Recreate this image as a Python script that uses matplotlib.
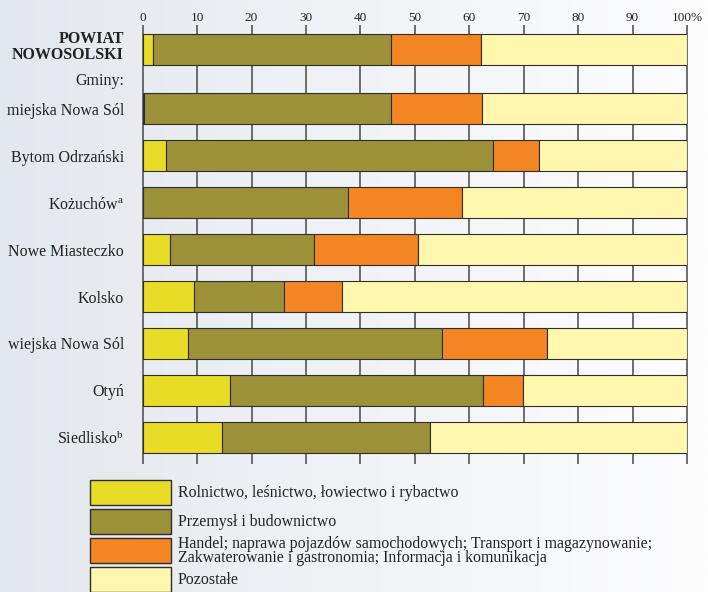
import numpy as np
import matplotlib
matplotlib.use('Agg')
import matplotlib.pyplot as plt
from matplotlib.patches import Rectangle

plt.rcParams['font.family'] = ['Liberation Serif', 'DejaVu Serif']
plt.rcParams['mathtext.fontset'] = 'custom'
plt.rcParams['mathtext.rm'] = 'Liberation Serif'
plt.rcParams['mathtext.it'] = 'Liberation Serif:italic'
plt.rcParams['mathtext.bf'] = 'Liberation Serif:bold'

# ---- data ----
units = ['POWIAT\nNOWOSOLSKI', 'miejska Nowa Sól', 'Bytom Odrzański',
         'Kożuchów$^{\\mathrm{a}}$', 'Nowe Miasteczko', 'Kolsko',
         'wiejska Nowa Sól', 'Otyń', 'Siedlisko$^{\\mathrm{b}}$']
rolnictwo = [1.9, 0.3, 4.2, 0.0, 5.0, 9.5, 8.4, 16.0, 14.5]
przemysl = [43.8, 45.3, 60.2, 37.8, 26.5, 16.4, 46.5, 46.6, 38.2]
handel = [16.5, 16.7, 8.5, 20.9, 19.0, 10.8, 19.3, 7.3, 0.0]
pozostale = [37.8, 37.7, 27.1, 41.3, 49.5, 63.3, 25.8, 30.1, 47.3]
series_names = ['Rolnictwo, leśnictwo, łowiectwo i rybactwo',
                'Przemysł i budownictwo',
                'Handel; naprawa pojazdów samochodowych; Transport i magazynowanie;\nZakwaterowanie i gastronomia; Informacja i komunikacja',
                'Pozostałe']
xticks = [0, 10, 20, 30, 40, 50, 60, 70, 80, 90, 100]
xticklabels = ['0', '10', '20', '30', '40', '50', '60', '70', '80', '90', '100%']
gminy_label = 'Gminy:'

colors = ['#e8dc27', '#9c9038', '#f38522', '#fff7ae']
edge = '#2e2e2e'

W, H = 708, 592
fig = plt.figure(figsize=(W / 100, H / 100), dpi=100)

# background gradient
bg = fig.add_axes([0, 0, 1, 1], zorder=-10)
grad = np.linspace(0, 1, 256)
left = np.array([227, 232, 238]) / 255
right = np.array([253, 253, 254]) / 255
img = (left[None, :] * (1 - grad[:, None]) + right[None, :] * grad[:, None])[None, :, :]
bg.imshow(img, aspect='auto', extent=[0, 1, 0, 1])
bg.set_axis_off()

# main axes
x0, x1 = 142.7, 687.0
yt, yb = 25.0, 464.0
ax = fig.add_axes([x0 / W, 1 - yb / H, (x1 - x0) / W, (yb - yt) / H])
ax.patch.set_alpha(0)

pos = np.array([-1.25, 0, 1, 2, 3, 4, 5, 6, 7])
bh = 0.668
data = [rolnictwo, przemysl, handel, pozostale]
leftacc = np.zeros(len(units))
for vals, c in zip(data, colors):
    v = np.array(vals)
    ax.barh(pos, v, left=leftacc, height=bh, color=c, edgecolor=edge,
            linewidth=0.8, zorder=3)
    leftacc += v

ax.set_xlim(0, 100)
ax.set_ylim(7.564, -1.777)

# grid lines
ax.vlines(xticks, 7.564, -1.777, colors='#555555', linewidth=1.2, zorder=1,
          clip_on=False)

for s in ax.spines.values():
    s.set_visible(False)

ax.xaxis.tick_top()
ax.set_xticks(xticks)
ax.set_xticklabels(xticklabels, fontsize=9.5, color='#222222')
ax.tick_params(axis='x', length=0, pad=1.0)

ylabels_pos = [-1.35, -0.63] + list(pos[1:])
ylabels = units[:1] + [gminy_label] + units[1:]
ax.set_yticks(ylabels_pos)
ax.set_yticklabels(ylabels, fontsize=11.5, color='#222222')
ax.tick_params(axis='y', length=0, pad=13.5)
for t in ax.get_yticklabels():
    if t.get_text().startswith('POWIAT'):
        t.set_fontweight('bold')
        t.set_fontsize(11.5)
        t.set_linespacing(1.0)

# legend (manual)
bx0, bx1 = 90.3, 170.7
tops = [480.3, 509.3, 538.3, 567.3]
bhpx = 25.0
for top, c, name in zip(tops, colors, series_names):
    fig.add_artist(Rectangle((bx0 / W, 1 - (top + bhpx) / H), (bx1 - bx0) / W, bhpx / H,
                             transform=fig.transFigure, facecolor=c, edgecolor=edge,
                             linewidth=1.0))
    fig.text(178 / W, 1 - (top + bhpx / 2) / H, name, fontsize=11.4, va='center',
             ha='left', color='#222222', linespacing=0.85)

fig.savefig('out.png', dpi=100)
